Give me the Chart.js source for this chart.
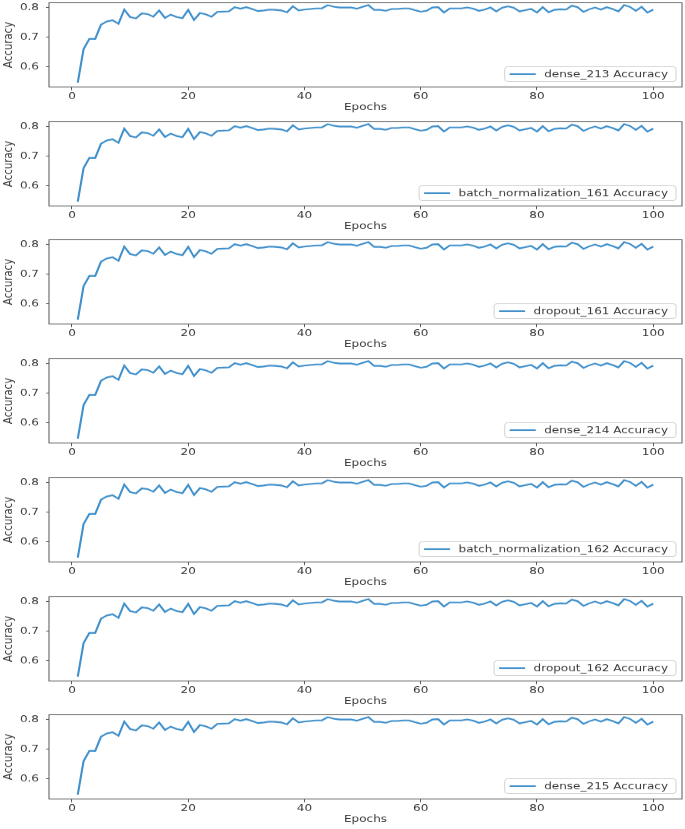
<!DOCTYPE html>
<html>
<head>
<meta charset="utf-8">
<script src="https://cdn.jsdelivr.net/npm/chart.js@4/dist/chart.umd.min.js"></script>
<style>
html, body { margin: 0; padding: 0; background: #fff; }
#wrap { position: relative; width: 685px; height: 829px; overflow: hidden; }
/* the source figure is squeezed vertically, so each panel is drawn taller and scaled down */
.panel { position: absolute; left: 0; width: 685px; height: 152px; transform: scaleY(0.78); transform-origin: 0 0; }
</style>
</head>
<body>
<div id="wrap"></div>
<script>
// layer names, one subplot each
const layers = ['dense_213', 'batch_normalization_161', 'dropout_161', 'dense_214',
                'batch_normalization_162', 'dropout_162', 'dense_215'];

const epochs = [1,2,3,4,5,6,7,8,9,10,11,12,13,14,15,16,17,18,19,20,
  21,22,23,24,25,26,27,28,29,30,31,32,33,34,35,36,37,38,39,40,
  41,42,43,44,45,46,47,48,49,50,51,52,53,54,55,56,57,58,59,60,
  61,62,63,64,65,66,67,68,69,70,71,72,73,74,75,76,77,78,79,80,
  81,82,83,84,85,86,87,88,89,90,91,92,93,94,95,96,97,98,99,100];

// same curve in every panel
const accuracy = [0.547,0.660,0.694,0.694,0.742,0.753,0.757,0.745,0.793,0.768,
  0.763,0.780,0.778,0.769,0.790,0.765,0.776,0.768,0.764,0.792,
  0.758,0.781,0.777,0.769,0.785,0.786,0.787,0.801,0.796,0.801,
  0.795,0.788,0.790,0.793,0.792,0.790,0.784,0.804,0.790,0.793,
  0.795,0.797,0.797,0.808,0.803,0.800,0.800,0.800,0.796,0.802,
  0.808,0.792,0.792,0.789,0.795,0.795,0.797,0.797,0.791,0.786,
  0.789,0.800,0.801,0.783,0.797,0.797,0.797,0.800,0.796,0.789,
  0.793,0.800,0.787,0.799,0.804,0.799,0.787,0.791,0.795,0.783,
  0.801,0.784,0.792,0.794,0.793,0.806,0.801,0.785,0.794,0.800,
  0.793,0.801,0.795,0.787,0.808,0.802,0.789,0.802,0.783,0.793];

const xTicks = [0, 20, 40, 60, 80, 100];
const yTicks = [0.6, 0.7, 0.8];

const PANEL_STEP = 118.7;
const LINE_COLOR = '#4090cc';
const TEXT_COLOR = '#3a3a3a';
const tickFont = { family: '"DejaVu Sans"', size: 12 };

// full frame round the plot, like matplotlib spines
const frame = {
  id: 'frame',
  afterDraw(chart) {
    const { ctx, chartArea: a } = chart;
    ctx.save();
    ctx.strokeStyle = '#555';
    ctx.lineWidth = 1;
    ctx.strokeRect(a.left, a.top, a.right - a.left, a.bottom - a.top);
    ctx.restore();
  }
};

// lower right legend box
const legendBox = {
  id: 'legendBox',
  afterDraw(chart) {
    const { ctx, chartArea: a } = chart;
    const ds = chart.data.datasets[0];
    ctx.save();
    ctx.font = '12px "DejaVu Sans"';
    const tw = ctx.measureText(ds.label).width;
    const w = 5 + 26 + 8.5 + tw + 8;
    const h = 19;
    const x = a.right - 6 - w;
    const y = a.bottom - 7 - h;
    ctx.fillStyle = 'rgba(255,255,255,0.85)';
    ctx.strokeStyle = '#d0d0d0';
    ctx.lineWidth = 1;
    ctx.beginPath();
    ctx.roundRect(x, y, w, h, 3);
    ctx.fill();
    ctx.stroke();
    ctx.strokeStyle = ds.borderColor;
    ctx.lineWidth = ds.borderWidth;
    ctx.beginPath();
    ctx.moveTo(x + 5, y + h / 2);
    ctx.lineTo(x + 31, y + h / 2);
    ctx.stroke();
    ctx.fillStyle = TEXT_COLOR;
    ctx.textBaseline = 'middle';
    ctx.fillText(ds.label, x + 39.5, y + h / 2 + 0.5);
    ctx.restore();
  }
};

const wrap = document.getElementById('wrap');

layers.forEach((name, i) => {
  const div = document.createElement('div');
  div.className = 'panel';
  div.style.top = (i * PANEL_STEP) + 'px';
  const cv = document.createElement('canvas');
  cv.width = 685;
  cv.height = 152;
  div.appendChild(cv);
  wrap.appendChild(div);

  new Chart(cv, {
    type: 'line',
    data: {
      datasets: [{
        label: name + ' Accuracy',
        data: epochs.map((e, k) => ({ x: e, y: accuracy[k] })),
        borderColor: LINE_COLOR,
        borderWidth: 2.1,
        pointRadius: 0,
        tension: 0,
        fill: false
      }]
    },
    options: {
      responsive: false,
      animation: false,
      devicePixelRatio: 1,
      layout: { padding: { top: 3.5, right: 3, left: 0, bottom: 0 } },
      plugins: { legend: { display: false }, tooltip: { enabled: false } },
      scales: {
        x: {
          type: 'linear',
          min: -3.95,
          max: 104.95,
          afterBuildTicks: s => { s.ticks = xTicks.map(v => ({ value: v })); },
          afterFit: s => { s.height = 40.5; s.paddingLeft = 0; s.paddingRight = 0; },
          grid: { display: true, drawOnChartArea: false, drawTicks: true, tickLength: 4, color: '#555' },
          border: { display: false },
          ticks: { font: tickFont, color: TEXT_COLOR, padding: 1.5, maxRotation: 0, autoSkip: false,
                   callback: v => String(v) },
          title: { display: true, text: 'Epochs', font: tickFont, color: TEXT_COLOR,
                   padding: { top: 0, bottom: 7 } }
        },
        y: {
          min: 0.532,
          max: 0.816,
          afterBuildTicks: s => { s.ticks = yTicks.map(v => ({ value: v })); },
          afterFit: s => { s.width = 49; s.paddingTop = 0; s.paddingBottom = 0; },
          grid: { display: true, drawOnChartArea: false, drawTicks: true, tickLength: 3, color: '#555' },
          border: { display: false },
          ticks: { font: tickFont, color: TEXT_COLOR, padding: 7, callback: v => v.toFixed(1) },
          title: { display: true, text: 'Accuracy', font: { family: '"DejaVu Sans"', size: 13 },
                   color: TEXT_COLOR, padding: { top: 0.5, bottom: 0 } }
        }
      }
    },
    plugins: [frame, legendBox]
  });
});
</script>
</body>
</html>
